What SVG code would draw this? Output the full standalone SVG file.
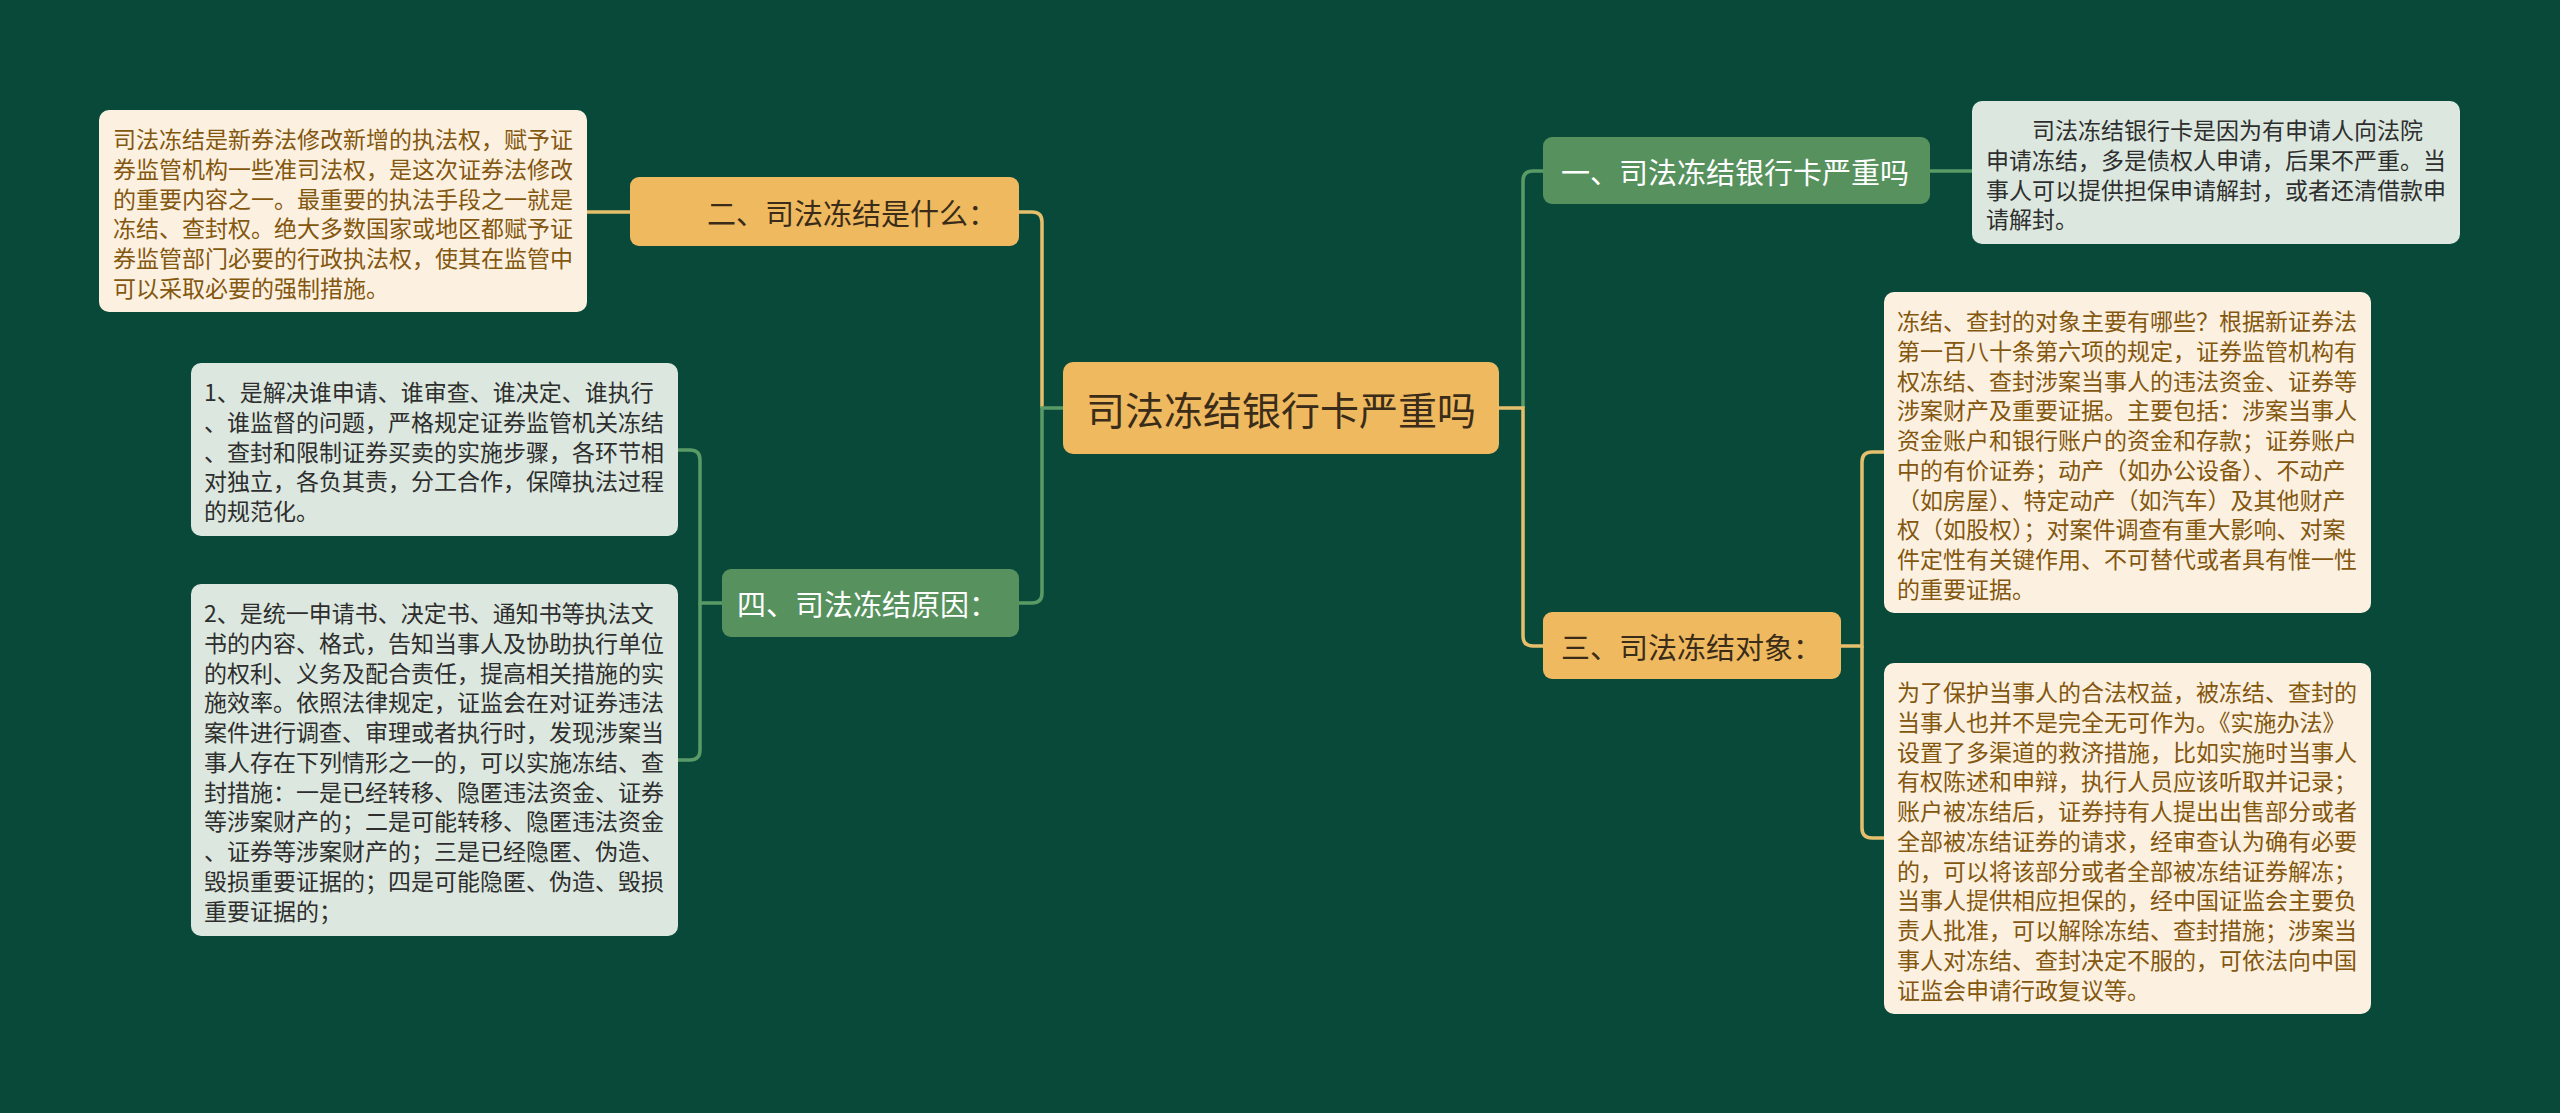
<svg xmlns="http://www.w3.org/2000/svg" width="2560" height="1113" viewBox="0 0 2560 1113">
<style>
text{font-family:"Noto Sans CJK SC","Noto Sans",sans-serif;dominant-baseline:central}
.bg{fill:#08493a}
.yel{fill:#efb960}
.grn{fill:#57925e}
.cream{fill:#fcf1e1}
.pale{fill:#dce8df}
.tc{font-size:39px;fill:#3a2c18}
.td{font-size:29px;fill:#3a2c18}
.tw{font-size:29px;fill:#ffffff}
.lb{font-size:23px;fill:#84570f}
.ld{font-size:23px;fill:#2e2e2e}
.cy{fill:none;stroke:#e6bf6c;stroke-width:3.5}
.cg{fill:none;stroke:#5a9a66;stroke-width:3.5}
</style>
<rect class="bg" x="0" y="0" width="2560" height="1113"/>
<g id="connectors">
<path class="cy" d="M1019,212 H1032 Q1042,212 1042,222 V408"/>
<path class="cg" d="M1063,408 H1042 V593 Q1042,603 1032,603 H1019"/>
<path class="cy" d="M630,212 H587"/>
<path class="cg" d="M722,603 H700 V460 Q700,450 690,450 H678"/>
<path class="cg" d="M700,603 V750 Q700,760 690,760 H678"/>
<path class="cg" d="M1523,408 V181 Q1523,171 1533,171 H1543"/>
<path class="cy" d="M1499,408 H1523 V636 Q1523,646 1533,646 H1543"/>
<path class="cg" d="M1930,171 H1972"/>
<path class="cy" d="M1841,646 H1862 V462 Q1862,452 1872,452 H1884"/>
<path class="cy" d="M1862,646 V828 Q1862,838 1872,838 H1884"/>
</g>
<g id="center">
<rect class="yel" x="1063" y="362" width="436" height="92" rx="10"/>
<text class="tc" x="1281" y="408" text-anchor="middle">司法冻结银行卡严重吗</text>
</g>
<g id="n2">
<rect class="yel" x="630" y="177" width="389" height="69" rx="9"/>
<text class="td" x="707" y="212">二、司法冻结是什么：</text>
</g>
<g id="n4">
<rect class="grn" x="722" y="569" width="297" height="68" rx="9"/>
<text class="tw" x="737" y="603">四、司法冻结原因：</text>
</g>
<g id="n1">
<rect class="grn" x="1543" y="137" width="387" height="67" rx="9"/>
<text class="tw" x="1561" y="171">一、司法冻结银行卡严重吗</text>
</g>
<g id="n3">
<rect class="yel" x="1543" y="612" width="298" height="67" rx="9"/>
<text class="td" x="1561" y="646">三、司法冻结对象：</text>
</g>
<g id="leaf2">
<rect class="cream" x="99" y="110" width="488" height="202" rx="10"/>
<text class="lb" x="113" y="138">司法冻结是新券法修改新增的执法权，赋予证</text>
<text class="lb" x="113" y="167.75">券监管机构一些准司法权，是这次证券法修改</text>
<text class="lb" x="113" y="197.5">的重要内容之一。最重要的执法手段之一就是</text>
<text class="lb" x="113" y="227.25">冻结、查封权。绝大多数国家或地区都赋予证</text>
<text class="lb" x="113" y="257">券监管部门必要的行政执法权，使其在监管中</text>
<text class="lb" x="113" y="286.75">可以采取必要的强制措施。</text>
</g>
<g id="leaf4a">
<rect class="pale" x="191" y="363" width="487" height="173" rx="10"/>
<text class="ld" x="204" y="391">1、是解决谁申请、谁审查、谁决定、谁执行</text>
<text class="ld" x="204" y="420.75">、谁监督的问题，严格规定证券监管机关冻结</text>
<text class="ld" x="204" y="450.5">、查封和限制证券买卖的实施步骤，各环节相</text>
<text class="ld" x="204" y="480.25">对独立，各负其责，分工合作，保障执法过程</text>
<text class="ld" x="204" y="510">的规范化。</text>
</g>
<g id="leaf4b">
<rect class="pale" x="191" y="584" width="487" height="352" rx="10"/>
<text class="ld" x="204" y="612">2、是统一申请书、决定书、通知书等执法文</text>
<text class="ld" x="204" y="641.75">书的内容、格式，告知当事人及协助执行单位</text>
<text class="ld" x="204" y="671.5">的权利、义务及配合责任，提高相关措施的实</text>
<text class="ld" x="204" y="701.25">施效率。依照法律规定，证监会在对证券违法</text>
<text class="ld" x="204" y="731">案件进行调查、审理或者执行时，发现涉案当</text>
<text class="ld" x="204" y="760.75">事人存在下列情形之一的，可以实施冻结、查</text>
<text class="ld" x="204" y="790.5">封措施：一是已经转移、隐匿违法资金、证券</text>
<text class="ld" x="204" y="820.25">等涉案财产的；二是可能转移、隐匿违法资金</text>
<text class="ld" x="204" y="850">、证券等涉案财产的；三是已经隐匿、伪造、</text>
<text class="ld" x="204" y="879.75">毁损重要证据的；四是可能隐匿、伪造、毁损</text>
<text class="ld" x="204" y="909.5">重要证据的；</text>
</g>
<g id="leaf1">
<rect class="pale" x="1972" y="101" width="488" height="143" rx="10"/>
<text class="ld" x="1986" y="129">　　司法冻结银行卡是因为有申请人向法院</text>
<text class="ld" x="1986" y="158.75">申请冻结，多是债权人申请，后果不严重。当</text>
<text class="ld" x="1986" y="188.5">事人可以提供担保申请解封，或者还清借款申</text>
<text class="ld" x="1986" y="218.25">请解封。</text>
</g>
<g id="leaf3a">
<rect class="cream" x="1884" y="292" width="487" height="321" rx="10"/>
<text class="lb" x="1897" y="320">冻结、查封的对象主要有哪些？根据新证券法</text>
<text class="lb" x="1897" y="349.75">第一百八十条第六项的规定，证券监管机构有</text>
<text class="lb" x="1897" y="379.5">权冻结、查封涉案当事人的违法资金、证券等</text>
<text class="lb" x="1897" y="409.25">涉案财产及重要证据。主要包括：涉案当事人</text>
<text class="lb" x="1897" y="439">资金账户和银行账户的资金和存款；证券账户</text>
<text class="lb" x="1897" y="468.75">中的有价证券；动产（如办公设备）、不动产</text>
<text class="lb" x="1897" y="498.5">（如房屋）、特定动产（如汽车）及其他财产</text>
<text class="lb" x="1897" y="528.25">权（如股权）；对案件调查有重大影响、对案</text>
<text class="lb" x="1897" y="558">件定性有关键作用、不可替代或者具有惟一性</text>
<text class="lb" x="1897" y="587.75">的重要证据。</text>
</g>
<g id="leaf3b">
<rect class="cream" x="1884" y="663" width="487" height="351" rx="10"/>
<text class="lb" x="1897" y="691">为了保护当事人的合法权益，被冻结、查封的</text>
<text class="lb" x="1897" y="720.75">当事人也并不是完全无可作为。《实施办法》</text>
<text class="lb" x="1897" y="750.5">设置了多渠道的救济措施，比如实施时当事人</text>
<text class="lb" x="1897" y="780.25">有权陈述和申辩，执行人员应该听取并记录；</text>
<text class="lb" x="1897" y="810">账户被冻结后，证券持有人提出出售部分或者</text>
<text class="lb" x="1897" y="839.75">全部被冻结证券的请求，经审查认为确有必要</text>
<text class="lb" x="1897" y="869.5">的，可以将该部分或者全部被冻结证券解冻；</text>
<text class="lb" x="1897" y="899.25">当事人提供相应担保的，经中国证监会主要负</text>
<text class="lb" x="1897" y="929">责人批准，可以解除冻结、查封措施；涉案当</text>
<text class="lb" x="1897" y="958.75">事人对冻结、查封决定不服的，可依法向中国</text>
<text class="lb" x="1897" y="988.5">证监会申请行政复议等。</text>
</g>
</svg>
